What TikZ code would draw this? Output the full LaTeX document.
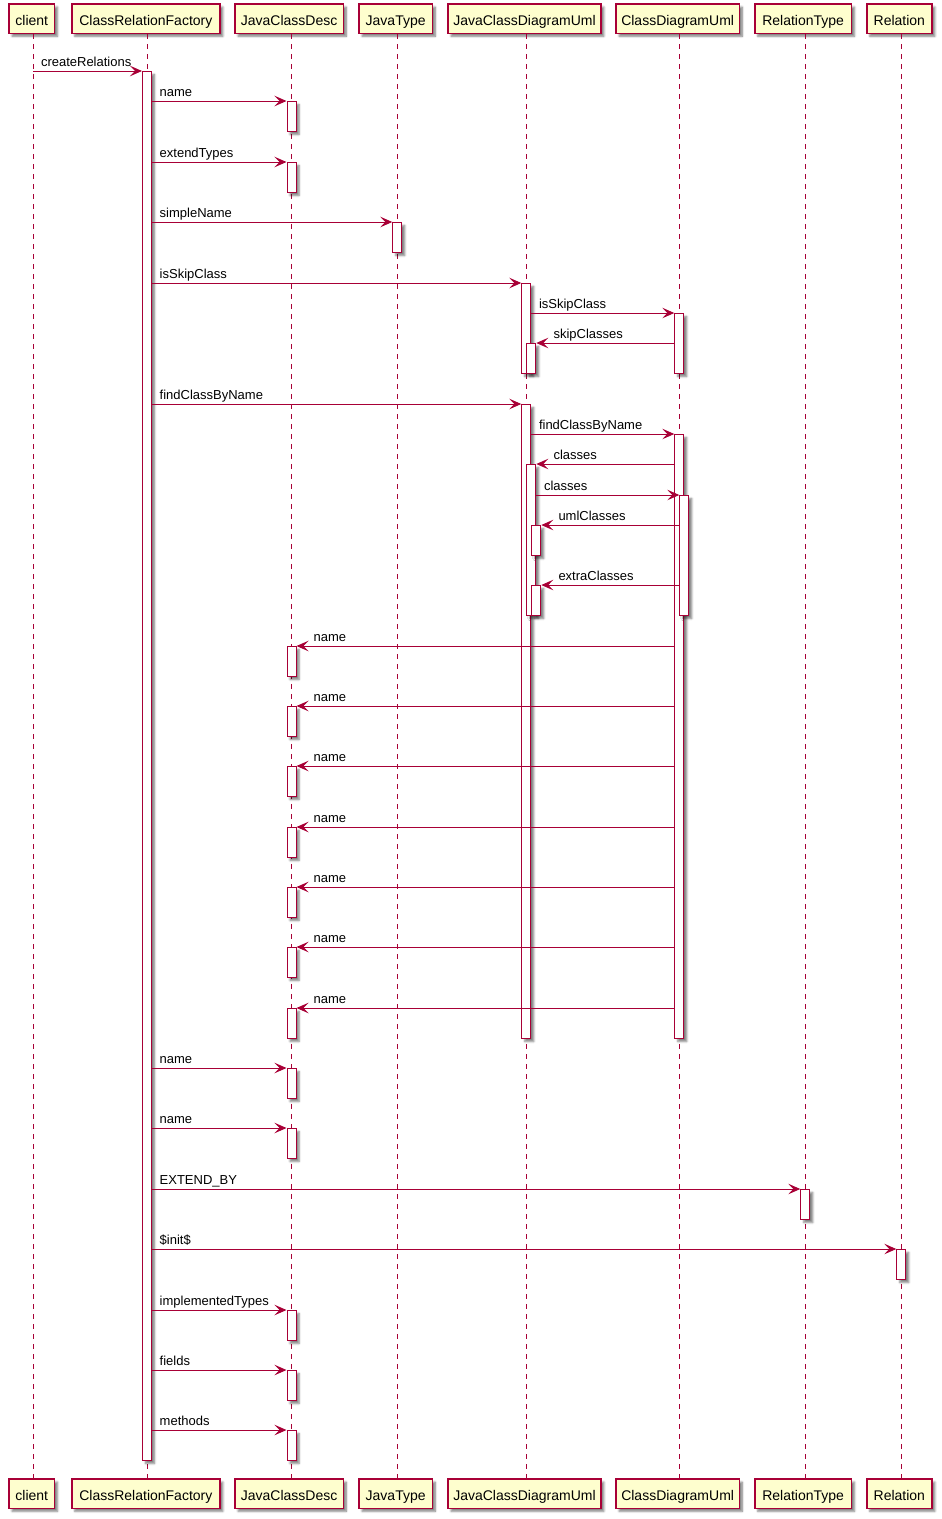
\documentclass[tikz,border=0pt]{standalone}
\usepackage{fontspec}
\setmainfont{Liberation Sans}
\usetikzlibrary{arrows.meta,shadows.blur}
\definecolor{pu}{HTML}{A80036}
\definecolor{pbox}{HTML}{FEFECE}
\begin{document}
\begin{tikzpicture}[x=1pt,y=-1pt,
  shad/.style={blur shadow={shadow xshift=3pt,shadow yshift=-3pt,shadow blur radius=2pt,shadow blur steps=5,shadow opacity=50}},
  part/.style={draw=pu,line width=1.5pt,fill=pbox,minimum height=29.2pt,inner sep=0pt,
    text height=14.2pt,text depth=0pt,font=\fontsize{14pt}{16pt}\selectfont,shad},
  life/.style={draw=pu,line width=1pt,dash pattern=on 5pt off 5pt},
  act/.style={draw=pu,line width=1pt,fill=white,minimum width=9pt,inner sep=0pt,anchor=north,shad},
  msg/.style={draw=pu,line width=1pt,-{Stealth[length=12pt,width=10.5pt,inset=5pt]}},
  lblR/.style={anchor=base west,xshift=7.5pt,yshift=4.5pt,inner sep=0pt,font=\fontsize{13pt}{15pt}\selectfont},
  lblL/.style={anchor=base west,xshift=17pt,yshift=4.5pt,inner sep=0pt,font=\fontsize{13pt}{15pt}\selectfont}]
\useasboundingbox (0,0) rectangle (942,1519);

% lifeline x positions
\coordinate (lCl) at (33.3,0);
\coordinate (lCR) at (147,0);
\coordinate (lJD) at (291.5,0);
\coordinate (lJT) at (397.3,0);
\coordinate (lJU) at (526.3,0);
\coordinate (lCD) at (679.3,0);
\coordinate (lRT) at (805.3,0);
\coordinate (lRe) at (901.3,0);

% participants top
\node[part,minimum width=45.5pt]  (hCl) at (31.8,18.65)  {client};
\node[part,minimum width=148.2pt] (hCR) at (145.85,18.65) {ClassRelationFactory};
\node[part,minimum width=108.2pt] (hJD) at (289.15,18.65) {JavaClassDesc};
\node[part,minimum width=73.2pt]  (hJT) at (395.65,18.65) {JavaType};
\node[part,minimum width=152.9pt] (hJU) at (524.5,18.65)  {JavaClassDiagramUml};
\node[part,minimum width=123.2pt] (hCD) at (677.65,18.65) {ClassDiagramUml};
\node[part,minimum width=96.8pt]  (hRT) at (803.15,18.65) {RelationType};
\node[part,minimum width=65.2pt]  (hRe) at (899.35,18.65) {Relation};
% participants bottom
\node[part,minimum width=45.5pt]  (bCl) at (31.8,1493.65)  {client};
\node[part,minimum width=148.2pt] (bCR) at (145.85,1493.65) {ClassRelationFactory};
\node[part,minimum width=108.2pt] (bJD) at (289.15,1493.65) {JavaClassDesc};
\node[part,minimum width=73.2pt]  (bJT) at (395.65,1493.65) {JavaType};
\node[part,minimum width=152.9pt] (bJU) at (524.5,1493.65)  {JavaClassDiagramUml};
\node[part,minimum width=123.2pt] (bCD) at (677.65,1493.65) {ClassDiagramUml};
\node[part,minimum width=96.8pt]  (bRT) at (803.15,1493.65) {RelationType};
\node[part,minimum width=65.2pt]  (bRe) at (899.35,1493.65) {Relation};

% lifelines
\foreach \l/\t/\b in {lCl/hCl/bCl,lCR/hCR/bCR,lJD/hJD/bJD,lJT/hJT/bJT,lJU/hJU/bJU,lCD/hCD/bCD,lRT/hRT/bRT,lRe/hRe/bRe}
  \draw[life] (\l |- \t.south) -- (\l |- \b.north);

% activation bars
\node[act,minimum height=1389pt] (aCR) at (147,71) {};
\node[act,minimum height=30pt] (aJ1) at (291.5,101) {};
\node[act,minimum height=30pt] (aJ2) at (291.5,162) {};
\node[act,minimum height=30pt] (aT1) at (397.3,222) {};
\node[act,minimum height=90pt] (aU1) at (526.3,283) {};
\node[act,minimum height=60pt] (aD1) at (679.3,313) {};
\node[act,minimum height=30pt] (aU1b) at (531.3,343) {};
\node[act,minimum height=634pt] (aU2) at (526.3,404) {};
\node[act,minimum height=604pt] (aD2) at (679.3,434) {};
\node[act,minimum height=151pt] (aU2b) at (531.3,464) {};
\node[act,minimum height=120pt] (aD2b) at (684.3,495) {};
\node[act,minimum height=30pt] (aU2c) at (536.3,525) {};
\node[act,minimum height=30pt] (aU2d) at (536.3,585) {};
\node[act,minimum height=30pt] (aJ3) at (291.5,646) {};
\node[act,minimum height=30pt] (aJ4) at (291.5,706) {};
\node[act,minimum height=30pt] (aJ5) at (291.5,766) {};
\node[act,minimum height=30pt] (aJ6) at (291.5,827) {};
\node[act,minimum height=30pt] (aJ7) at (291.5,887) {};
\node[act,minimum height=30pt] (aJ8) at (291.5,947) {};
\node[act,minimum height=30pt] (aJ9) at (291.5,1008) {};
\node[act,minimum height=30pt] (aJ10) at (291.5,1068) {};
\node[act,minimum height=30pt] (aJ11) at (291.5,1128) {};
\node[act,minimum height=30pt] (aR1) at (805.3,1189) {};
\node[act,minimum height=30pt] (aL1) at (901.3,1249) {};
\node[act,minimum height=30pt] (aJ12) at (291.5,1310) {};
\node[act,minimum height=30pt] (aJ13) at (291.5,1370) {};
\node[act,minimum height=30pt] (aJ14) at (291.5,1430) {};

% messages
\draw[msg] (lCl |- 0,71) -- (aCR.west |- 0,71);
\node[lblR] (m1) at (lCl |- 0,71) {createRelations};
\draw[msg] (aCR.east |- 0,101) -- (aJ1.west |- 0,101);
\node[lblR] (m2) at (aCR.east |- 0,101) {name};
\draw[msg] (aCR.east |- 0,162) -- (aJ2.west |- 0,162);
\node[lblR] (m3) at (aCR.east |- 0,162) {extendTypes};
\draw[msg] (aCR.east |- 0,222) -- (aT1.west |- 0,222);
\node[lblR] (m4) at (aCR.east |- 0,222) {simpleName};
\draw[msg] (aCR.east |- 0,283) -- (aU1.west |- 0,283);
\node[lblR] (m5) at (aCR.east |- 0,283) {isSkipClass};
\draw[msg] (aU1.east |- 0,313) -- (aD1.west |- 0,313);
\node[lblR] (m6) at (aU1.east |- 0,313) {isSkipClass};
\draw[msg] (aD1.west |- 0,343) -- (aU1b.east |- 0,343);
\node[lblL] (m7) at (aU1b.east |- 0,343) {skipClasses};
\draw[msg] (aCR.east |- 0,404) -- (aU2.west |- 0,404);
\node[lblR] (m8) at (aCR.east |- 0,404) {findClassByName};
\draw[msg] (aU2.east |- 0,434) -- (aD2.west |- 0,434);
\node[lblR] (m9) at (aU2.east |- 0,434) {findClassByName};
\draw[msg] (aD2.west |- 0,464) -- (aU2b.east |- 0,464);
\node[lblL] (m10) at (aU2b.east |- 0,464) {classes};
\draw[msg] (aU2b.east |- 0,495) -- (aD2b.west |- 0,495);
\node[lblR] (m11) at (aU2b.east |- 0,495) {classes};
\draw[msg] (aD2b.west |- 0,525) -- (aU2c.east |- 0,525);
\node[lblL] (m12) at (aU2c.east |- 0,525) {umlClasses};
\draw[msg] (aD2b.west |- 0,585) -- (aU2d.east |- 0,585);
\node[lblL] (m13) at (aU2d.east |- 0,585) {extraClasses};
\foreach \a/\y in {aJ3/646,aJ4/706,aJ5/766,aJ6/827,aJ7/887,aJ8/947,aJ9/1008}{
  \draw[msg] (aD2.west |- 0,\y) -- (\a.east |- 0,\y);
  \node[lblL] (n\a) at (\a.east |- 0,\y) {name};
}
\draw[msg] (aCR.east |- 0,1068) -- (aJ10.west |- 0,1068);
\node[lblR] (m21) at (aCR.east |- 0,1068) {name};
\draw[msg] (aCR.east |- 0,1128) -- (aJ11.west |- 0,1128);
\node[lblR] (m22) at (aCR.east |- 0,1128) {name};
\draw[msg] (aCR.east |- 0,1189) -- (aR1.west |- 0,1189);
\node[lblR] (m23) at (aCR.east |- 0,1189) {EXTEND\_BY};
\draw[msg] (aCR.east |- 0,1249) -- (aL1.west |- 0,1249);
\node[lblR] (m24) at (aCR.east |- 0,1249) {\$init\$};
\draw[msg] (aCR.east |- 0,1310) -- (aJ12.west |- 0,1310);
\node[lblR] (m25) at (aCR.east |- 0,1310) {implementedTypes};
\draw[msg] (aCR.east |- 0,1370) -- (aJ13.west |- 0,1370);
\node[lblR] (m26) at (aCR.east |- 0,1370) {fields};
\draw[msg] (aCR.east |- 0,1430) -- (aJ14.west |- 0,1430);
\node[lblR] (m27) at (aCR.east |- 0,1430) {methods};
\end{tikzpicture}
\end{document}
